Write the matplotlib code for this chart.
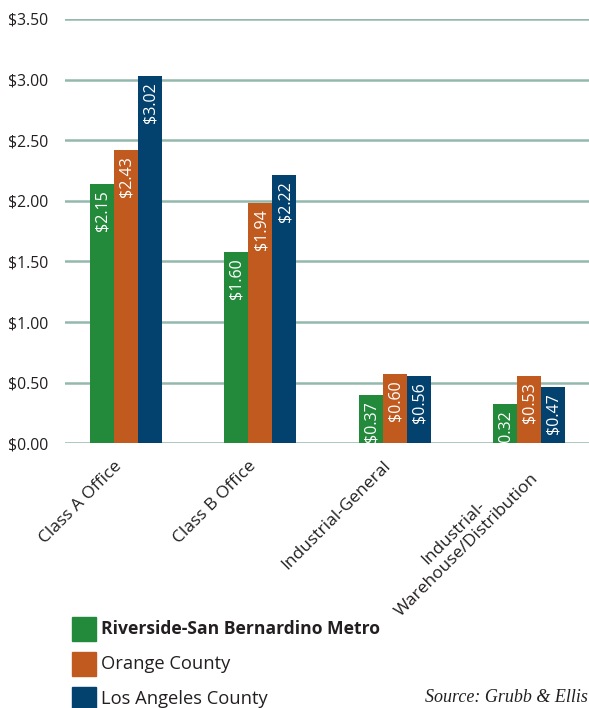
import matplotlib
matplotlib.use("Agg")
import matplotlib.pyplot as plt
import matplotlib.transforms as mtransforms
import numpy as np
from matplotlib.patches import Rectangle

categories = ["Class A Office", "Class B Office", "Industrial-General",
              "Industrial-\nWarehouse/Distribution"]
series_names = ["Riverside-San Bernardino Metro", "Orange County", "Los Angeles County"]
# bar heights as drawn in the picture
riverside = [2.14, 1.58, 0.40, 0.325]
orange = [2.42, 1.985, 0.575, 0.555]
los_angeles = [3.03, 2.215, 0.555, 0.465]
# value labels as printed
riverside_labels = ["$2.15", "$1.60", "$0.37", "$0.32"]
orange_labels = ["$2.43", "$1.94", "$0.60", "$0.53"]
los_angeles_labels = ["$3.02", "$2.22", "$0.56", "$0.47"]
yticks = [0.0, 0.5, 1.0, 1.5, 2.0, 2.5, 3.0, 3.5]
ytick_labels = ["$0.00", "$0.50", "$1.00", "$1.50", "$2.00", "$2.50", "$3.00", "$3.50"]
source = "Source: Grubb & Ellis"

colors = ["#238a3c", "#c05a1f", "#03426e"]
grid_color = "#93b8ad"
text_color = "#231f20"

plt.rcParams['font.family'] = ['Open Sans', 'DejaVu Sans']

W, H = 589, 708
fig = plt.figure(figsize=(W / 100, H / 100), dpi=100)
ax_left = 65 / W
ax_bottom = 1 - 443.3 / H
ax_top = 1 - 19 / H
ax = fig.add_axes([ax_left, ax_bottom, 1 - ax_left, ax_top - ax_bottom])

x = np.arange(len(categories))
bw = 0.179
all_vals = [riverside, orange, los_angeles]
all_labels = [riverside_labels, orange_labels, los_angeles_labels]
for i, (vals, labs) in enumerate(zip(all_vals, all_labels)):
    xs = x + (i - 1) * bw
    ax.bar(xs, vals, width=bw, color=colors[i], zorder=3, linewidth=0)
    for xi, v, lab in zip(xs, vals, labs):
        ax.annotate(lab, (xi, v), xytext=(0.5, -4.5), textcoords="offset points",
                    rotation=90, ha="center", va="top", color="white",
                    fontsize=11.5, zorder=4, clip_on=True,
                    annotation_clip=True)

ax.set_xlim(-0.454, 3.447)
ax.set_ylim(0, 3.5)
ax.set_yticks(yticks)
ax.set_yticklabels(ytick_labels, fontsize=11.3, color=text_color)
ax.yaxis.grid(True, color=grid_color, linewidth=1.8, zorder=0)
ax.set_axisbelow(True)
for s in ax.spines.values():
    s.set_visible(False)
ax.tick_params(axis="y", length=0, pad=12)
ax.tick_params(axis="x", length=0, pad=4)
ax.set_xticks(x)
ax.set_xticklabels(categories, rotation=45, ha="right", va="top",
                   rotation_mode="anchor", fontsize=12.5, color=text_color,
                   multialignment="center")
for lbl in ax.get_xticklabels():
    lbl.set_transform(lbl.get_transform() + mtransforms.ScaledTranslation(
        -12 / 100, -9 / 100, fig.dpi_scale_trans))

# legend
leg_y = [629, 664, 699]
for i, name in enumerate(series_names):
    yc = 1 - leg_y[i] / H
    fig.patches.append(Rectangle((72 / W, yc - 12 / H), 24 / W, 24 / H,
                                 transform=fig.transFigure, color=colors[i]))
    fig.text(101 / W, yc, name, fontsize=12.6 if i == 0 else 13.2,
             color=text_color, va="center", ha="left",
             fontweight="bold" if i == 0 else "normal")

fig.text(588 / W, 1 - 697 / H, source, fontsize=13, color=text_color,
         ha="right", va="center", style="italic", family="Liberation Serif")

fig.savefig("out.png", dpi=100)
